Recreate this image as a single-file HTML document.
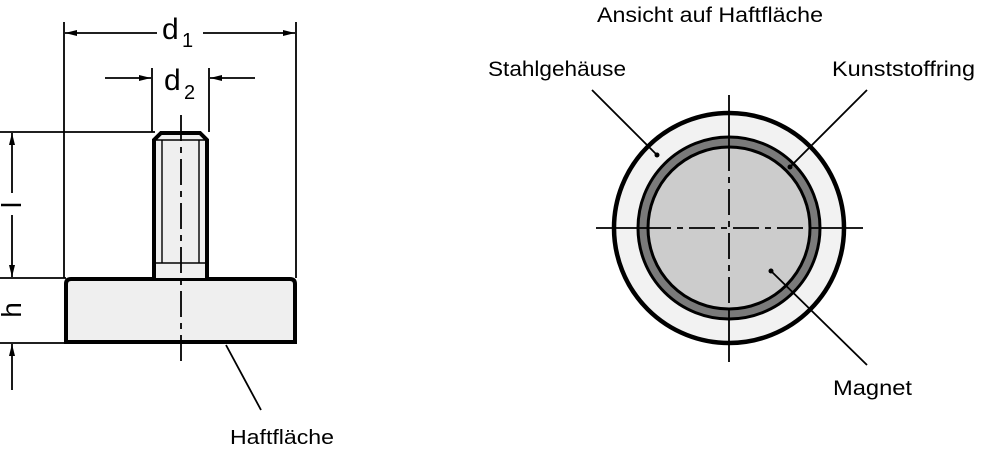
<!DOCTYPE html>
<html><head><meta charset="utf-8"><style>
html,body{margin:0;padding:0;background:#fff;}
svg{display:block;}
text{font-family:"Liberation Sans",sans-serif;fill:#000;}
</style></head><body>
<svg width="1000" height="467" viewBox="0 0 1000 467" xmlns="http://www.w3.org/2000/svg">
<defs>
<marker id="a" viewBox="0 0 12 6" refX="12" refY="3" markerWidth="12" markerHeight="6" markerUnits="userSpaceOnUse" orient="auto"><path d="M0,0 L12,3 L0,6 Z" fill="#000"/></marker>
</defs>
<g stroke="#000" fill="none">
<line x1="64" y1="22" x2="64" y2="278" stroke-width="1.8"/>
<line x1="296" y1="22" x2="296" y2="278" stroke-width="1.8"/>
<line x1="152" y1="68" x2="152" y2="132" stroke-width="1.8"/>
<line x1="209" y1="68" x2="209" y2="132" stroke-width="1.8"/>
<line x1="0" y1="132" x2="155" y2="132" stroke-width="1.8"/>
<line x1="0" y1="278" x2="66" y2="278" stroke-width="1.8"/>
<line x1="0" y1="343" x2="66" y2="343" stroke-width="1.8"/>
<line x1="157" y1="33" x2="65" y2="33" stroke-width="1.8" marker-end="url(#a)"/>
<line x1="203" y1="33" x2="295" y2="33" stroke-width="1.8" marker-end="url(#a)"/>
<line x1="105" y1="78" x2="151" y2="78" stroke-width="1.8" marker-end="url(#a)"/>
<line x1="255" y1="78" x2="210" y2="78" stroke-width="1.8" marker-end="url(#a)"/>
<line x1="12" y1="193" x2="12" y2="133" stroke-width="1.8" marker-end="url(#a)"/>
<line x1="12" y1="215" x2="12" y2="277" stroke-width="1.8" marker-end="url(#a)"/>
<line x1="12" y1="390" x2="12" y2="344" stroke-width="1.8" marker-end="url(#a)"/>
<path d="M66,342 L66,284 Q66,279 71,279 L290,279 Q295,279 295,284 L295,342 Z" fill="#efefef" stroke-width="4"/>
<path d="M154,278 L154,140 L161,133 L200,133 L207,140 L207,278" fill="#efefef" stroke-width="4"/>
<line x1="154" y1="140" x2="207" y2="140" stroke-width="1.4"/>
<line x1="162" y1="140" x2="162" y2="263" stroke-width="1.4"/>
<line x1="199" y1="140" x2="199" y2="263" stroke-width="1.4"/>
<line x1="154" y1="263" x2="207" y2="263" stroke-width="1.4"/>
<line x1="181" y1="115" x2="181" y2="362" stroke-width="1.8" stroke-dasharray="26,6,6,6"/>
<line x1="226" y1="345" x2="261" y2="410" stroke-width="1.8"/>
</g>
<text x="162" y="39" font-size="30">d</text><text x="182" y="47" font-size="20">1</text>
<text x="164" y="90" font-size="30">d</text><text x="184" y="99" font-size="20">2</text>
<text transform="translate(21,205) rotate(-90)" font-size="28" text-anchor="middle">l</text>
<text transform="translate(21,310) rotate(-90)" font-size="28" text-anchor="middle">h</text>
<text x="230" y="444" font-size="20" textLength="104" lengthAdjust="spacingAndGlyphs">Haftfläche</text>
<circle cx="729" cy="228" r="115" fill="#f2f2f2" stroke="#000" stroke-width="4.5"/>
<circle cx="729" cy="228" r="91" fill="#7a7a7a" stroke="#000" stroke-width="3"/>
<circle cx="729" cy="228" r="81" fill="#cccccc" stroke="#000" stroke-width="3"/>
<g stroke="#000" stroke-width="1.8">
<line x1="596" y1="228" x2="645" y2="228"/>
<line x1="813" y1="228" x2="863" y2="228"/>
<line x1="645" y1="228" x2="813" y2="228" stroke-dasharray="26,6,6,6"/>
<line x1="729" y1="95" x2="729" y2="145"/>
<line x1="729" y1="310" x2="729" y2="362"/>
<line x1="729" y1="145" x2="729" y2="310" stroke-dasharray="26,6,6,6"/>
<line x1="592" y1="90" x2="657" y2="155"/>
<line x1="867" y1="90" x2="790" y2="167"/>
<line x1="771" y1="271" x2="867" y2="365"/>
</g>
<circle cx="657" cy="155" r="2.5" fill="#000"/>
<circle cx="790" cy="167" r="2.5" fill="#000"/>
<circle cx="771" cy="271" r="2.5" fill="#000"/>
<text x="597" y="22" font-size="21" textLength="226" lengthAdjust="spacingAndGlyphs">Ansicht auf Haftfläche</text>
<text x="488" y="76" font-size="21" textLength="138" lengthAdjust="spacingAndGlyphs">Stahlgehäuse</text>
<text x="832" y="76" font-size="21" textLength="143" lengthAdjust="spacingAndGlyphs">Kunststoffring</text>
<text x="833" y="395" font-size="21" textLength="79" lengthAdjust="spacingAndGlyphs">Magnet</text>
</svg>
</body></html>
